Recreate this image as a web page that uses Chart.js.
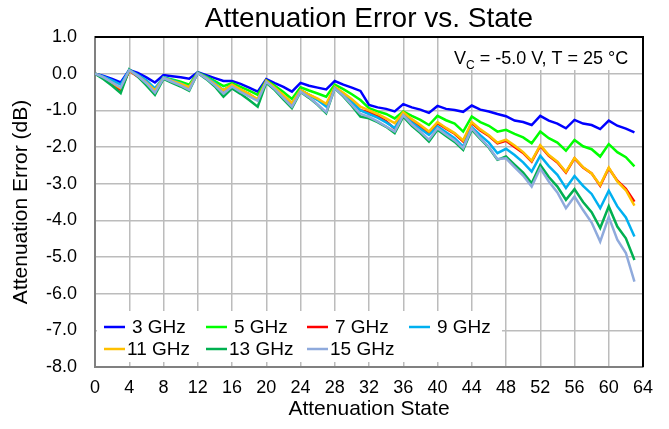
<!DOCTYPE html>
<html>
<head>
<meta charset="utf-8">
<script src="https://cdn.jsdelivr.net/npm/chart.js@4.4.1/dist/chart.umd.min.js"></script>
<style>
  html, body { margin: 0; padding: 0; background: #fff; }
  #wrap { width: 669px; height: 429px; }
</style>
</head>
<body>
<div id="wrap"><canvas id="chart" width="669" height="429"></canvas></div>
<script>
// --- Data ---
const STATES = Array.from({ length: 64 }, (_, i) => i);
const X_TICKS = [0, 4, 8, 12, 16, 20, 24, 28, 32, 36, 40, 44, 48, 52, 56, 60, 64];
const Y_TICKS = [1, 0, -1, -2, -3, -4, -5, -6, -7, -8];
const FREQS = ["3 GHz", "5 GHz", "7 GHz", "9 GHz", "11 GHz", "13 GHz", "15 GHz"];
const COLORS = ["#0000ff", "#00ff00", "#ff0000", "#00b0f0", "#ffc000", "#00b050", "#8faadc"];

const ERR_3GHZ = [
  0, -0.06, -0.14, -0.24, 0.10, 0.02, -0.10, -0.24, -0.04, -0.07, -0.10, -0.14, 0.04, -0.04, -0.12, -0.20,
  -0.20, -0.28, -0.38, -0.49, -0.15, -0.26, -0.36, -0.49, -0.25, -0.33, -0.38, -0.43, -0.20, -0.30, -0.38, -0.47,
  -0.85, -0.92, -0.96, -1.03, -0.83, -0.92, -0.98, -1.07, -0.88, -0.96, -0.99, -1.04, -0.87, -0.98, -1.03, -1.10,
  -1.16, -1.28, -1.32, -1.40, -1.15, -1.28, -1.36, -1.49, -1.26, -1.36, -1.40, -1.51, -1.28, -1.42, -1.50, -1.60
];
const ERR_5GHZ = [
  0, -0.10, -0.24, -0.42, 0.08, -0.05, -0.22, -0.45, -0.10, -0.16, -0.22, -0.30, 0.03, -0.08, -0.20, -0.34,
  -0.26, -0.36, -0.46, -0.58, -0.18, -0.33, -0.50, -0.69, -0.37, -0.46, -0.54, -0.63, -0.30, -0.42, -0.56, -0.72,
  -0.94, -1.03, -1.10, -1.22, -1.03, -1.15, -1.26, -1.40, -1.15, -1.27, -1.36, -1.58, -1.17, -1.32, -1.42, -1.58,
  -1.53, -1.64, -1.74, -1.90, -1.58, -1.76, -1.88, -2.10, -1.81, -1.98, -2.06, -2.26, -1.92, -2.14, -2.28, -2.53
];
const ERR_7GHZ = [
  0, -0.12, -0.28, -0.45, 0.08, -0.08, -0.27, -0.48, -0.12, -0.22, -0.30, -0.40, 0.02, -0.12, -0.28, -0.46,
  -0.30, -0.44, -0.56, -0.72, -0.20, -0.40, -0.62, -0.85, -0.45, -0.58, -0.70, -0.86, -0.38, -0.55, -0.76, -1.00,
  -1.05, -1.16, -1.30, -1.50, -1.08, -1.28, -1.44, -1.62, -1.35, -1.50, -1.64, -1.85, -1.35, -1.55, -1.70, -1.90,
  -1.83, -2.00, -2.16, -2.40, -1.97, -2.24, -2.42, -2.70, -2.31, -2.56, -2.72, -3.06, -2.58, -2.92, -3.14, -3.49
];
const ERR_9GHZ = [
  0, -0.08, -0.18, -0.30, 0.10, -0.03, -0.18, -0.40, -0.10, -0.18, -0.26, -0.36, 0.02, -0.10, -0.25, -0.45,
  -0.30, -0.44, -0.58, -0.72, -0.22, -0.40, -0.60, -0.80, -0.45, -0.58, -0.72, -0.90, -0.38, -0.56, -0.78, -1.00,
  -1.10, -1.20, -1.33, -1.48, -1.13, -1.33, -1.50, -1.67, -1.44, -1.60, -1.76, -1.99, -1.46, -1.68, -1.88, -2.17,
  -2.05, -2.22, -2.42, -2.67, -2.24, -2.52, -2.76, -3.12, -2.79, -3.06, -3.28, -3.67, -3.19, -3.62, -3.92, -4.44
];
const ERR_11GHZ = [
  0, -0.11, -0.25, -0.40, 0.08, -0.06, -0.24, -0.46, -0.12, -0.20, -0.27, -0.37, 0.02, -0.12, -0.28, -0.45,
  -0.30, -0.43, -0.56, -0.70, -0.20, -0.38, -0.58, -0.80, -0.45, -0.57, -0.68, -0.82, -0.36, -0.52, -0.70, -0.90,
  -1.00, -1.10, -1.22, -1.35, -1.05, -1.24, -1.40, -1.58, -1.32, -1.48, -1.62, -1.82, -1.32, -1.52, -1.68, -1.88,
  -1.80, -1.96, -2.14, -2.38, -1.95, -2.22, -2.40, -2.68, -2.30, -2.55, -2.72, -3.04, -2.56, -2.94, -3.18, -3.60
];
const ERR_13GHZ = [
  0, -0.15, -0.33, -0.53, 0.12, -0.08, -0.32, -0.58, -0.14, -0.25, -0.35, -0.47, 0.02, -0.15, -0.35, -0.63,
  -0.40, -0.55, -0.72, -0.90, -0.25, -0.45, -0.70, -0.94, -0.50, -0.66, -0.85, -1.08, -0.40, -0.62, -0.88, -1.17,
  -1.22, -1.32, -1.45, -1.62, -1.17, -1.42, -1.62, -1.85, -1.53, -1.70, -1.86, -2.08, -1.53, -1.78, -2.02, -2.35,
  -2.26, -2.48, -2.70, -2.99, -2.49, -2.82, -3.08, -3.44, -3.15, -3.50, -3.78, -4.21, -3.62, -4.17, -4.49, -5.08
];
const ERR_15GHZ = [
  0, -0.10, -0.24, -0.38, 0.10, -0.06, -0.26, -0.52, -0.12, -0.22, -0.32, -0.44, 0.02, -0.13, -0.32, -0.54,
  -0.35, -0.50, -0.62, -0.74, -0.22, -0.42, -0.66, -0.90, -0.49, -0.64, -0.84, -1.05, -0.40, -0.60, -0.85, -1.10,
  -1.18, -1.30, -1.44, -1.58, -1.13, -1.38, -1.58, -1.80, -1.49, -1.66, -1.82, -2.03, -1.49, -1.76, -2.00, -2.33,
  -2.31, -2.55, -2.78, -3.08, -2.58, -2.94, -3.24, -3.67, -3.35, -3.72, -4.06, -4.58, -3.91, -4.53, -4.89, -5.67
];
const SERIES = [ERR_3GHZ, ERR_5GHZ, ERR_7GHZ, ERR_9GHZ, ERR_11GHZ, ERR_13GHZ, ERR_15GHZ];

const TITLE = "Attenuation Error vs. State";
const X_TITLE = "Attenuation State";
const Y_TITLE = "Attenuation Error (dB)";
const FONT = "'Liberation Sans', Arial, sans-serif";

// --- Datasets ---
const datasets = FREQS.map((name, i) => ({
  label: name,
  data: STATES.map((s, k) => ({ x: s, y: SERIES[i][k] })),
  borderColor: COLORS[i],
  backgroundColor: COLORS[i],
  borderWidth: 2.5,
  pointRadius: 0,
  tension: 0,
  order: FREQS.length - i, // later series drawn on top
}));

// --- Extras drawn straight on the canvas ---
const decorPlugin = {
  id: "decor",
  afterDraw(chart) {
    const { ctx, chartArea: a } = chart;
    ctx.save();

    // top / right frame
    ctx.strokeStyle = "#000";
    ctx.lineWidth = 2;
    ctx.beginPath();
    ctx.moveTo(a.left, a.top);
    ctx.lineTo(a.right, a.top);
    ctx.lineTo(a.right, a.bottom);
    ctx.stroke();

    // title
    ctx.fillStyle = "#000";
    ctx.textAlign = "center";
    ctx.textBaseline = "middle";
    ctx.font = `28px ${FONT}`;
    ctx.fillText(TITLE, (a.left + a.right) / 2, 19);

    // condition box
    ctx.fillStyle = "#fff";
    ctx.fillRect(440, a.top + 1, a.right - 441, 32);
    ctx.fillStyle = "#000";
    ctx.textAlign = "left";
    ctx.textBaseline = "alphabetic";
    let x = 454;
    ctx.font = `18px ${FONT}`;
    ctx.fillText("V", x, 64);
    x += ctx.measureText("V").width;
    ctx.font = `12px ${FONT}`;
    ctx.fillText("C", x, 69);
    x += ctx.measureText("C").width;
    ctx.font = `18px ${FONT}`;
    ctx.fillText(" = -5.0 V, T = 25 °C", x, 64);

    // legend box
    ctx.fillStyle = "#fff";
    ctx.fillRect(a.left + 2, 311, 405, 51);
    const cols = [104, 206, 307, 409];
    const rows = [327, 349];
    ctx.font = `19px ${FONT}`;
    ctx.textBaseline = "middle";
    chart.data.datasets.forEach((ds, i) => {
      const x0 = cols[i % 4];
      const y0 = rows[Math.floor(i / 4)];
      ctx.strokeStyle = ds.borderColor;
      ctx.lineWidth = 2.5;
      ctx.beginPath();
      ctx.moveTo(x0, y0);
      ctx.lineTo(x0 + 21, y0);
      ctx.stroke();
      ctx.fillStyle = "#000";
      const pad = ds.label.length < 6 ? 28 : 23;
      ctx.fillText(ds.label, x0 + pad, y0 + 1);
    });

    ctx.restore();
  },
};

// --- Chart ---
new Chart(document.getElementById("chart"), {
  type: "line",
  data: { datasets },
  options: {
    responsive: false,
    animation: false,
    layout: { padding: { top: 37, right: 26, left: 0, bottom: 0 } },
    plugins: {
      legend: { display: false },
      tooltip: { enabled: false },
    },
    scales: {
      x: {
        type: "linear",
        min: 0,
        max: 64,
        afterBuildTicks: (s) => { s.ticks = X_TICKS.map((v) => ({ value: v })); },
        afterFit: (s) => { s.height = 62; },
        ticks: { color: "#000", font: { family: FONT, size: 18 }, padding: 10, maxRotation: 0 },
        grid: { color: "#bcbcbc", lineWidth: 1.5, drawTicks: false },
        border: { color: "#808080", width: 2 },
        title: { display: true, text: X_TITLE, color: "#000", font: { family: FONT, size: 21 }, padding: { top: 0, bottom: 7 } },
      },
      y: {
        min: -8,
        max: 1,
        afterBuildTicks: (s) => { s.ticks = Y_TICKS.map((v) => ({ value: v })); },
        afterFit: (s) => { s.width = 95; },
        ticks: { color: "#000", font: { family: FONT, size: 18 }, padding: 18, callback: (v) => v.toFixed(1) },
        grid: { color: "#bcbcbc", lineWidth: 1.5, drawTicks: false },
        border: { color: "#808080", width: 2 },
        title: { display: true, text: Y_TITLE, color: "#000", font: { family: FONT, size: 21 }, padding: { top: 9, bottom: 0 } },
      },
    },
  },
  plugins: [decorPlugin],
});
</script>
</body>
</html>
